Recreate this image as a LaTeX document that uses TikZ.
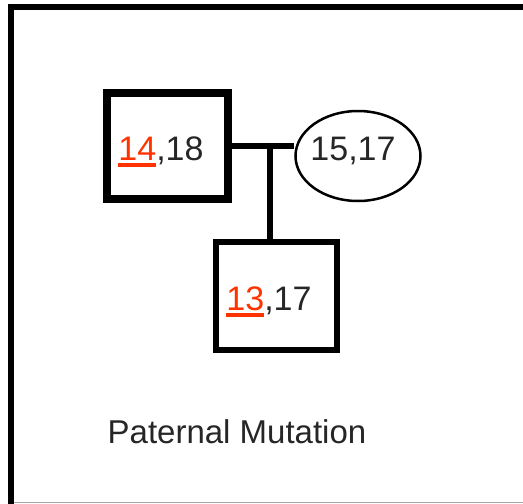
\documentclass[tikz,border=0pt]{standalone}
\usepackage{fontspec}
\setmainfont{Liberation Sans}
\usepackage{xcolor}
\usepackage{tikz}
\usetikzlibrary{shapes.geometric}
\definecolor{mutred}{RGB}{255,51,0}
\newcommand\mutallele[1]{{\color{mutred}\setbox0\hbox{#1}\rlap{\rule[-7pt]{\wd0}{4pt}}\box0}}

\begin{document}
\begin{tikzpicture}[x=1pt,y=-1pt,
  male/.style={draw,rectangle,minimum width=121pt,minimum height=106pt,inner sep=0pt},
  female/.style={draw,ellipse,minimum width=125pt,minimum height=90pt,inner sep=0pt,line width=2.5pt},
  allele/.style={anchor=base,inner sep=0pt,text=black!85,font=\fontsize{34}{40}\selectfont}]
\useasboundingbox (0,0) rectangle (523,504);
\draw[line width=6pt] (11,504) -- (11,7) -- (523,7);
\draw[black!35,line width=1.2pt] (14,502.5) -- (523,502.5);
\node[male,line width=8pt] (father) at (167.5,146) {};
\node[female] (mother) at (358,156) {};
\node[male,line width=6.5pt,minimum height=108pt] (child) at (276.5,296) {};
\node[allele] (fatherGeno) at (161,160) {\mutallele{14},18};
\node[allele] (motherGeno) at (353,160) {15,17};
\node[allele] (childGeno) at (269,310) {\mutallele{13},17};
\draw[line width=6.5pt] (father.east) -- (father.east -| mother.west);
\coordinate (sibship) at (270,146);
\draw[line width=6.5pt] (sibship) -- (sibship |- child.north);
\node[allele,font=\fontsize{33}{40}\selectfont] (caption) at (237,443) {Paternal Mutation};
\end{tikzpicture}
\end{document}
